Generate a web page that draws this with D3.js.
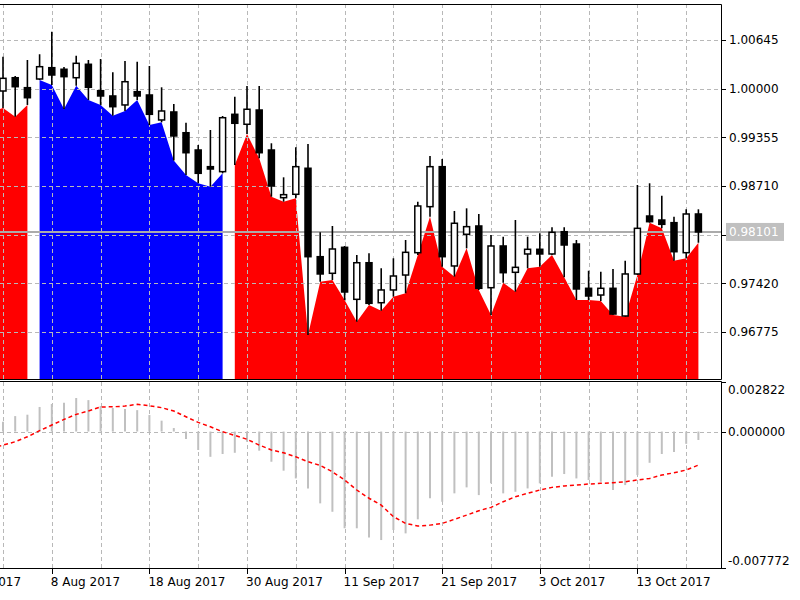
<!DOCTYPE html>
<html>
<head>
<meta charset="utf-8">
<script src="https://cdn.jsdelivr.net/npm/d3@7"></script>
<style>
  body { margin: 0; background: #fff; }
  svg { display: block; font-family: "DejaVu Sans", sans-serif; font-size: 12px; }
</style>
</head>
<body>
<svg></svg>
<script>
// axis runs over trading days 27 Jul .. 20 Oct 2017, bars start 1 Aug (just off the left edge)
const axisStart = "2017-07-27";
const axisEnd = "2017-10-20";
const firstBar = "2017-08-01";

const open = [1.00050, 0.99969, 1.00145, 1.00013, 1.00128, 1.00278, 1.00257, 1.00145, 1.00323, 0.99973,
  0.99903, 0.99784, 0.99960, 0.99916, 0.99585, 0.99691, 0.99416, 0.99187, 0.98966, 0.98900,
  0.99660, 0.99528, 0.99717, 0.99187, 0.98555, 0.98600, 0.98945, 0.97773, 0.97553, 0.97897,
  0.97208, 0.97693, 0.97163, 0.97332, 0.97530, 0.97826, 0.98436, 0.98966, 0.97650, 0.98070,
  0.98180, 0.97362, 0.97915, 0.97566, 0.97809, 0.97871, 0.97809, 0.98104, 0.97941, 0.97354,
  0.97265, 0.97354, 0.96987, 0.97544, 0.98312, 0.98259, 0.98224, 0.97826, 0.98339];
const high = [1.00220, 1.00424, 1.00168, 1.00380, 1.00456, 1.00755, 1.00287, 1.00437, 1.00380, 1.00393,
  1.00217, 1.00367, 1.00357, 1.00300, 1.00018, 0.99797, 0.99549, 0.99253, 0.99452, 0.99638,
  0.99894, 1.00035, 1.00035, 0.99276, 0.98825, 0.99223, 0.99267, 0.98096, 0.98180, 0.97915,
  0.97795, 0.97818, 0.97619, 0.97752, 0.97994, 0.98502, 0.99108, 0.99068, 0.98379, 0.98414,
  0.98339, 0.98061, 0.98038, 0.98259, 0.98038, 0.98083, 0.98163, 0.98163, 0.97994, 0.97587,
  0.97574, 0.97610, 0.97720, 0.98723, 0.98746, 0.98581, 0.98303, 0.98401, 0.98401];
const low = [0.99691, 0.99744, 0.99628, 0.99784, 1.00115, 1.00049, 0.99731, 1.00039, 0.99850, 0.99784,
  0.99642, 0.99704, 0.99850, 0.99518, 0.99554, 0.99048, 0.98856, 0.98746, 0.98701, 0.98878,
  0.98988, 0.99399, 0.99077, 0.98568, 0.98502, 0.98547, 0.96735, 0.97442, 0.97464, 0.97199,
  0.96911, 0.97133, 0.97057, 0.97243, 0.97288, 0.97795, 0.98303, 0.97640, 0.97508, 0.97884,
  0.97332, 0.97000, 0.97428, 0.97309, 0.97619, 0.97640, 0.97795, 0.97500, 0.97199, 0.97199,
  0.97186, 0.97000, 0.96978, 0.97530, 0.98224, 0.98149, 0.97720, 0.97752, 0.97958];
const close = [0.99960, 1.00137, 1.00026, 0.99880, 1.00291, 1.00181, 1.00159, 1.00336, 1.00018, 0.99903,
  0.99761, 1.00092, 0.99903, 0.99660, 0.99704, 0.99373, 0.99151, 0.98878, 0.98935, 0.99615,
  0.99541, 0.99727, 0.99151, 0.98710, 0.98595, 0.98966, 0.97773, 0.97544, 0.97875, 0.97305,
  0.97693, 0.97155, 0.97332, 0.97517, 0.97831, 0.98445, 0.98966, 0.97773, 0.98216, 0.98171,
  0.97354, 0.97915, 0.97561, 0.97632, 0.97871, 0.97809, 0.98096, 0.97928, 0.97345, 0.97252,
  0.97354, 0.97013, 0.97544, 0.98149, 0.98237, 0.98202, 0.97839, 0.98339, 0.98101];
// zone of the filled area under the lows
const trend = ["dn","dn","dn","dn",
  "up","up","up","up","up","up","up","up","up","up","up","up","up","up","up","up",
  "dn","dn","dn","dn","dn","dn","dn","dn","dn","dn","dn","dn","dn","dn","dn","dn","dn","dn","dn","dn",
  "dn","dn","dn","dn","dn","dn","dn","dn","dn","dn","dn","dn","dn","dn","dn","dn","dn","dn","dn"];

const macd = [0.00030, 0.00056, 0.00088, 0.00096, 0.00140, 0.00157, 0.00164, 0.00191, 0.00179, 0.00145,
  0.00134, 0.00128, 0.00122, 0.00094, 0.00062, 0.00020, -0.00043, -0.00105, -0.00144, -0.00128,
  -0.00121, -0.00058, -0.00109, -0.00172, -0.00223, -0.00267, -0.00324, -0.00409, -0.00457, -0.00551,
  -0.00551, -0.00603, -0.00618, -0.00561, -0.00580, -0.00500, -0.00380, -0.00400, -0.00352, -0.00318,
  -0.00362, -0.00295, -0.00352, -0.00343, -0.00324, -0.00295, -0.00257, -0.00242, -0.00267, -0.00276,
  -0.00286, -0.00333, -0.00305, -0.00248, -0.00178, -0.00128, -0.00117, -0.00070, -0.00048];
const signal = [-0.00100, -0.00077, -0.00058, -0.00030, 0.00005, 0.00037, 0.00069, 0.00098, 0.00117, 0.00140,
  0.00141, 0.00145, 0.00155, 0.00147, 0.00136, 0.00117, 0.00084, 0.00052, 0.00027, -0.00001,
  -0.00022, -0.00044, -0.00077, -0.00105, -0.00121, -0.00144, -0.00172, -0.00193, -0.00229, -0.00276,
  -0.00333, -0.00380, -0.00419, -0.00485, -0.00523, -0.00538, -0.00533, -0.00523, -0.00500, -0.00476,
  -0.00451, -0.00432, -0.00400, -0.00371, -0.00352, -0.00333, -0.00318, -0.00310, -0.00305, -0.00299,
  -0.00295, -0.00292, -0.00286, -0.00276, -0.00267, -0.00248, -0.00235, -0.00219, -0.00191];

const priceTicks = [1.00645, 1.00000, 0.99355, 0.98710, 0.98065, 0.97420, 0.96775];
const lastPrice = 0.98101;
const macdTicks = [0.002822, 0.000000, -0.007772];
const dateTicks = ["2017-07-27", "2017-08-08", "2017-08-18", "2017-08-30", "2017-09-11", "2017-09-21", "2017-10-03", "2017-10-13"];

// layout
const plotR = 721, mainTop = 4, mainBot = 379, subTop = 382, subBot = 568;

const svg = d3.select("svg").attr("width", 800).attr("height", 600);

const parse = d3.timeParse("%Y-%m-%d");
const key = d3.timeFormat("%Y-%m-%d");
const days = d3.timeDay.range(parse(axisStart), d3.timeDay.offset(parse(axisEnd), 1))
  .filter(d => d.getDay() !== 0 && d.getDay() !== 6)
  .map(key);
const barDates = days.slice(days.indexOf(firstBar));

const bars = barDates.map((d, i) => ({
  date: d, o: open[i], h: high[i], l: low[i], c: close[i], t: trend[i], m: macd[i], s: signal[i]
}));

const x = d3.scalePoint().domain(days).range([-45.8, 698.4]);
const y = d3.scaleLinear().domain([0.96152, 1.01122]).range([mainBot, mainTop]);
const y2 = d3.scaleLinear().domain([-0.007772, 0.002822]).range([subBot, subTop]);

const defs = svg.append("defs");
defs.append("clipPath").attr("id", "clipMain").append("rect")
  .attr("x", 0).attr("y", mainTop).attr("width", plotR).attr("height", mainBot - mainTop);
defs.append("clipPath").attr("id", "clipSub").append("rect")
  .attr("x", 0).attr("y", subTop).attr("width", plotR).attr("height", subBot - subTop);

const main = svg.append("g").attr("clip-path", "url(#clipMain)");
const sub = svg.append("g").attr("clip-path", "url(#clipSub)");

// filled area under the lows, broken where the zone changes
const runs = [];
bars.forEach(b => {
  const last = runs[runs.length - 1];
  if (last && last.t === b.t) last.pts.push(b);
  else runs.push({ t: b.t, pts: [b] });
});
const area = d3.area().x(d => x(d.date)).y0(mainBot).y1(d => y(d.l));
main.selectAll("path.zone")
  .data(runs)
  .join("path")
  .attr("class", "zone")
  .attr("d", r => area(r.pts))
  .attr("fill", r => r.t === "up" ? "#0000ff" : "#ff0000");

// grid
const gridDays = days.filter((d, i) => i % 4 === 0);
const gridStyle = sel => sel.attr("stroke", "#b8b8b8").attr("stroke-width", 1).attr("stroke-dasharray", "4,3");

main.selectAll("line.vg").data(gridDays).join("line")
  .attr("x1", d => Math.round(x(d)) + 0.5).attr("x2", d => Math.round(x(d)) + 0.5)
  .attr("y1", mainTop).attr("y2", mainBot).call(gridStyle);
main.selectAll("line.hg").data(priceTicks).join("line")
  .attr("x1", 0).attr("x2", plotR)
  .attr("y1", d => Math.round(y(d)) + 0.5).attr("y2", d => Math.round(y(d)) + 0.5).call(gridStyle);

// last price line
main.append("line")
  .attr("x1", 0).attr("x2", plotR)
  .attr("y1", y(lastPrice)).attr("y2", y(lastPrice))
  .attr("stroke", "#ababab").attr("stroke-width", 2);

// candles
const candle = main.selectAll("g.candle").data(bars).join("g").attr("class", "candle");
candle.append("line")
  .attr("x1", d => x(d.date)).attr("x2", d => x(d.date))
  .attr("y1", d => y(d.h)).attr("y2", d => y(d.l))
  .attr("stroke", "#000").attr("stroke-width", 1.6);
candle.append("rect")
  .attr("x", d => x(d.date) - 3)
  .attr("width", 6)
  .attr("y", d => y(Math.max(d.o, d.c)))
  .attr("height", d => Math.max(1, Math.abs(y(d.o) - y(d.c))))
  .attr("fill", d => d.c >= d.o ? "#fff" : "#000")
  .attr("stroke", "#000").attr("stroke-width", 1.5);

// MACD panel
sub.selectAll("line.vg").data(gridDays).join("line")
  .attr("x1", d => Math.round(x(d)) + 0.5).attr("x2", d => Math.round(x(d)) + 0.5)
  .attr("y1", subTop).attr("y2", subBot).call(gridStyle);
sub.append("line")
  .attr("x1", 0).attr("x2", plotR)
  .attr("y1", Math.round(y2(0)) + 0.5).attr("y2", Math.round(y2(0)) + 0.5).call(gridStyle);

sub.selectAll("line.hist").data(bars).join("line")
  .attr("x1", d => x(d.date)).attr("x2", d => x(d.date))
  .attr("y1", y2(0)).attr("y2", d => y2(d.m))
  .attr("stroke", "#c0c0c0").attr("stroke-width", 2);

sub.append("path")
  .datum(bars)
  .attr("d", d3.line().x(d => x(d.date)).y(d => y2(d.s)))
  .attr("fill", "none")
  .attr("stroke", "#ff0000").attr("stroke-width", 1.5)
  .attr("stroke-dasharray", "4,3");

// frames
const frame = svg.append("g").attr("stroke", "#000").attr("stroke-width", 1).attr("fill", "none");
frame.append("path").attr("d", `M0,${mainTop + 0.5}H${plotR + 0.5}V${mainBot + 0.5}H0`);
frame.append("path").attr("d", `M0,${subTop - 0.5}H${plotR + 0.5}V${subBot + 0.5}H0`);

// right price axis
const yTickY = d => y(d);
const priceLabels = priceTicks.filter(d => Math.abs(y(d) - y(lastPrice)) > 10);
svg.selectAll("line.pt").data(priceTicks).join("line")
  .attr("x1", plotR).attr("x2", plotR + 5)
  .attr("y1", d => Math.round(y(d)) + 0.5).attr("y2", d => Math.round(y(d)) + 0.5)
  .attr("stroke", "#000");
svg.selectAll("text.pt").data(priceLabels).join("text")
  .attr("x", plotR + 8).attr("y", yTickY).attr("dy", "0.36em")
  .attr("fill", "#000")
  .text(d => d.toFixed(5));

svg.append("rect")
  .attr("x", plotR + 5).attr("y", y(lastPrice) - 9)
  .attr("width", 58).attr("height", 18)
  .attr("fill", "#c0c0c0");
svg.append("text")
  .attr("x", plotR + 8).attr("y", y(lastPrice)).attr("dy", "0.36em")
  .attr("fill", "#fff")
  .text(lastPrice.toFixed(5));

// right MACD axis
svg.selectAll("line.mt").data(macdTicks).join("line")
  .attr("x1", plotR).attr("x2", plotR + 5)
  .attr("y1", d => Math.round(y2(d)) + 0.5).attr("y2", d => Math.round(y2(d)) + 0.5)
  .attr("stroke", "#000");
svg.selectAll("text.mt").data(macdTicks).join("text")
  .attr("x", plotR + 7)
  .attr("y", d => Math.min(subBot - 7, Math.max(subTop + 8, y2(d))))
  .attr("dy", "0.36em")
  .attr("fill", "#000")
  .text(d => d.toFixed(6));

// date axis
const fmtDate = d3.timeFormat("%-d %b %Y");
svg.selectAll("line.dt").data(dateTicks).join("line")
  .attr("x1", d => Math.round(x(d)) + 0.5).attr("x2", d => Math.round(x(d)) + 0.5)
  .attr("y1", subBot).attr("y2", subBot + 6)
  .attr("stroke", "#000");
svg.selectAll("text.dt").data(dateTicks).join("text")
  .attr("x", d => x(d) - 1).attr("y", subBot + 18)
  .attr("fill", "#000")
  .text(d => fmtDate(parse(d)));
</script>
</body>
</html>
